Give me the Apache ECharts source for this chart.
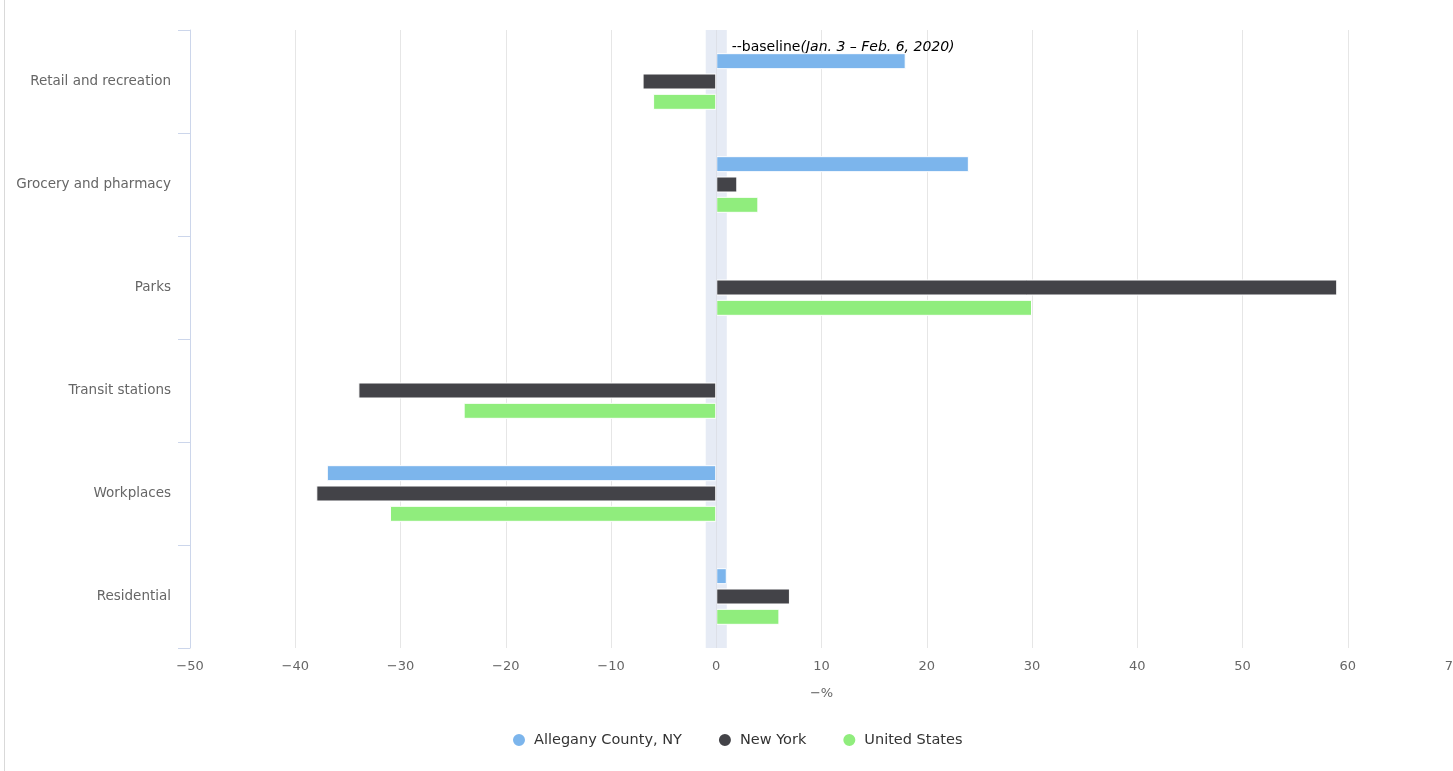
<!DOCTYPE html>
<html>
<head>
<meta charset="utf-8">
<script src="https://cdn.jsdelivr.net/npm/echarts@6/dist/echarts.min.js"></script>
<style>
html,body{margin:0;padding:0;background:#fff;}
#chart{width:1453px;height:771px;}
</style>
</head>
<body>
<div id="chart"></div>
<script>
const categories = ['Retail and recreation', 'Grocery and pharmacy', 'Parks', 'Transit stations', 'Workplaces', 'Residential'];
const seriesNames = ['Allegany County, NY', 'New York', 'United States'];
const allegany = [18, 24, null, null, -37, 1];
const newYork = [-7, 2, 59, -34, -38, 7];
const unitedStates = [-6, 4, 30, -24, -31, 6];
const baselineBand = [-1, 1];
const colors = ['#7cb5ec', '#434348', '#90ed7d'];
const FONT = '"DejaVu Sans", Verdana, sans-serif';

const chart = echarts.init(document.getElementById('chart'));
const values = [allegany, newYork, unitedStates];

const series = values.map((v, i) => ({
  name: seriesNames[i],
  type: 'bar',
  data: v,
  barWidth: 16,
  barGap: '27%',
  itemStyle: { color: colors[i], borderColor: '#ffffff', borderWidth: 1 },
  emphasis: { disabled: true },
  z: 3
}));

series.unshift({
  name: '_band',
  type: 'bar',
  data: [],
  z: 1,
  markArea: {
    silent: true,
    itemStyle: { color: '#e6ebf5' },
    label: {
      show: true,
      position: 'insideTopLeft',
      offset: [21, 5],
      fontFamily: FONT,
      fontSize: 14,
      color: '#000',
      formatter: '{a|--baseline}{b|(Jan. 3 – Feb. 6, 2020)}',
      rich: {
        a: { fontFamily: FONT, fontSize: 14, color: '#000' },
        b: { fontFamily: FONT, fontSize: 14, color: '#000', fontStyle: 'italic' }
      }
    },
    data: [[{ xAxis: baselineBand[0] }, { xAxis: baselineBand[1] }]]
  },
  markLine: {
    silent: true,
    symbol: ['none', 'none'],
    label: { show: false },
    lineStyle: { color: '#dde0e8', width: 1, type: 'solid' },
    data: [{ xAxis: 0 }]
  }
});

chart.setOption({
  animation: false,
  color: colors,
  grid: { left: 190, right: 0, top: 30, bottom: 123, containLabel: false, outerBoundsMode: 'none' },
  legend: {
    data: seriesNames,
    bottom: 18,
    left: 506,
    icon: 'circle',
    itemWidth: 14,
    itemHeight: 14,
    itemGap: 35,
    textStyle: { fontFamily: FONT, fontSize: 14.5, color: '#333', padding: [0, 0, 0, 3] }
  },
  xAxis: {
    type: 'value',
    min: -50,
    max: 70,
    interval: 10,
    name: '−%',
    nameLocation: 'middle',
    nameGap: 39,
    nameTextStyle: { fontFamily: FONT, fontSize: 13, color: '#666' },
    axisLine: { show: false },
    axisTick: { show: false },
    axisLabel: {
      margin: 12,
      fontFamily: FONT,
      fontSize: 13,
      color: '#666',
      formatter: v => (v < 0 ? '−' + Math.abs(v) : String(v))
    },
    splitLine: { show: true, lineStyle: { color: '#e6e6e6', width: 1 } }
  },
  yAxis: {
    type: 'category',
    data: categories,
    inverse: true,
    axisLine: { show: true, onZero: false, lineStyle: { color: '#ccd6eb', width: 1 } },
    axisTick: { show: true, length: 12, lineStyle: { color: '#ccd6eb' } },
    axisLabel: { margin: 19, fontFamily: FONT, fontSize: 13.5, color: '#666' },
    splitLine: { show: false }
  },
  graphic: [{
    type: 'rect',
    shape: { x: 4, y: 0, width: 1, height: 771 },
    style: { fill: '#d9d9d9' },
    silent: true
  }],
  series: series
});
</script>
</body>
</html>
